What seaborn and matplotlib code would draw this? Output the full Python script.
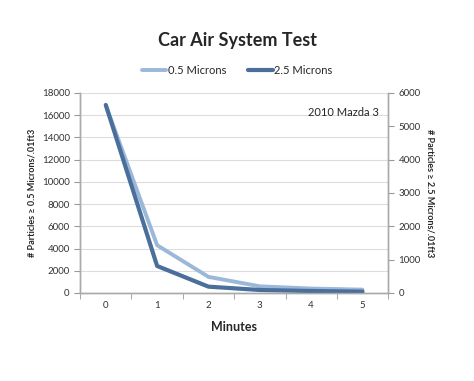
import matplotlib
matplotlib.use("Agg")
import matplotlib.pyplot as plt
from matplotlib.ticker import MultipleLocator
import seaborn as sns
import pandas as pd

minutes = [0, 1, 2, 3, 4, 5]
small_particles = [16900, 4300, 1450, 600, 400, 300]   # 0.5 microns, left axis
large_particles = [5640, 810, 190, 90, 60, 40]         # 2.5 microns, right axis

light = "#9bb7d9"
dark = "#4a6f9b"

sns.set_style("white")
plt.rcParams['font.family'] = ['Lato', 'DejaVu Sans']

df = pd.DataFrame({"Minutes": minutes, "small": small_particles, "large": large_particles})

fig = plt.figure(figsize=(4.74, 3.81), dpi=100)
ax = fig.add_axes([0.169, 0.231, 0.650, 0.525])
ax2 = ax.twinx()

sns.lineplot(data=df, x="Minutes", y="small", ax=ax, color=light, linewidth=2.8,
             label="0.5 Microns", legend=False)
sns.lineplot(data=df, x="Minutes", y="large", ax=ax2, color=dark, linewidth=3.0,
             label="2.5 Microns", legend=False)

# axes ranges / ticks
ax.set_xlim(-0.5, 5.5)
ax.set_ylim(0, 18000)
ax2.set_ylim(0, 6000)
ax.yaxis.set_major_locator(MultipleLocator(2000))
ax2.yaxis.set_major_locator(MultipleLocator(1000))
ax.set_xticks(minutes)
ax.xaxis.set_minor_locator(MultipleLocator(1, offset=0.5))
ax.tick_params(axis="x", which="major", length=0, labelsize=7, pad=6, colors="#333333")
ax.tick_params(axis="x", which="minor", length=4, color="#999999", bottom=True)
ax.tick_params(axis="y", length=4, color="#999999", labelsize=7, colors="#333333", left=True)
ax2.tick_params(axis="y", length=4, color="#999999", labelsize=7, colors="#333333", right=True)
ax.grid(axis="y", color="#dddddd", linewidth=0.8)
ax.set_axisbelow(True)

for a in (ax, ax2):
    a.spines["top"].set_visible(False)
    for s in ("left", "right", "bottom"):
        a.spines[s].set_color("#aaaaaa")
        a.spines[s].set_linewidth(1.0)

ax.set_xlabel("Minutes", fontsize=9, fontweight="bold", labelpad=8)
ax.set_ylabel("# Particles ≥ 0.5 Microns/.01ft3", fontsize=6.5, fontweight="bold", labelpad=4)
ax2.set_ylabel("# Particles ≥ 2.5 Microns/.01ft3", fontsize=6.5, fontweight="bold",
               rotation=270, labelpad=10)

ax.text(0.97, 0.93, "2010 Mazda 3", transform=ax.transAxes, ha="right", va="top", fontsize=8)

fig.text(0.5, 0.895, "Car Air System Test", ha="center", va="center", fontsize=13, fontweight="bold")

h1, l1 = ax.get_legend_handles_labels()
h2, l2 = ax2.get_legend_handles_labels()
fig.legend(h1 + h2, l1 + l2, loc="center", bbox_to_anchor=(0.5, 0.815), ncol=2,
           frameon=False, fontsize=8, handlelength=2.2, handletextpad=0.1, columnspacing=2.0)

fig.savefig("out.png", dpi=100)
